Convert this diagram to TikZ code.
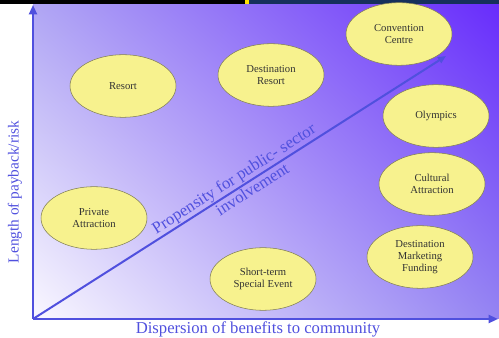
\documentclass[tikz,border=0pt]{standalone}
\usepackage{fontspec}
\setmainfont{Liberation Serif}
\usepackage{tikz}
\usetikzlibrary{shapes.geometric, shadings, arrows.meta}

\definecolor{axisblue}{RGB}{80,80,222}
\definecolor{placefill}{RGB}{247,242,142}
\definecolor{placeline}{RGB}{128,126,84}
\definecolor{bgll}{RGB}{250,248,255}
\definecolor{bgul}{RGB}{176,166,244}
\definecolor{bglr}{RGB}{148,132,242}
\definecolor{bgur}{RGB}{104,44,252}
\definecolor{topbar}{RGB}{22,48,92}

\tikzset{
  place/.style={ellipse, draw=placeline, fill=placefill, line width=0.4pt,
    minimum width=79.5pt, minimum height=47pt, inner sep=0pt, align=center,
    font=\fontsize{8}{9}\selectfont, text=black!80},
  axis/.style={draw=axisblue, line width=1.5pt, -{Triangle[length=7pt,width=6pt]}},
  axislabel/.style={text=axisblue, font=\fontsize{12.5}{14}\selectfont},
}

\begin{document}
\begin{tikzpicture}[x=0.75pt, y=0.75pt]
        \useasboundingbox (0,0) rectangle (499,338);

        % 背景の描画
        \shade[lower left=bgll, upper left=bgul, lower right=bglr, upper right=bgur]
            (33,19) rectangle (499,334);
        \fill[black] (0,334) rectangle (245,338);
        \fill[yellow!85!orange] (245,334) rectangle (249,338);
        \fill[topbar] (249,334) rectangle (499,338);

        % 軸の描画
        \coordinate (o) at (33,19);
        \coordinate (xend) at (498,19);
        \coordinate (yend) at (33,333);
        \coordinate (diag) at (446,282);

        \draw[axis] (o) -- (xend);
        \draw[axis] (o) -- (yend);
        \draw[axis, -{Triangle[length=6pt,width=5pt]}] (o) -- (diag)
            node[pos=0.5, sloped, above, inner sep=0.5pt, axislabel] (prop) {Propensity for public- sector}
            node[pos=0.52, sloped, below, inner sep=1pt, axislabel] (invol) {involvement};

        \node[axislabel] (xlab) at (258,9) {Dispersion of benefits to community};
        \node[axislabel, font=\fontsize{11.5}{13}\selectfont, rotate=90] (ylab) at (15,146) {Length of payback/risk};

        % 楕円の描画
        \node[place] (resort) at (123,252) {Resort};
        \node[place] (dresort) at (271,263) {Destination\\Resort};
        \node[place] (conv) at (399,304) {Convention\\Centre};
        \node[place] (olymp) at (436,222) {Olympics};
        \node[place] (cult) at (432,154) {Cultural\\Attraction};
        \node[place] (dmf) at (420,81) {Destination\\Marketing\\Funding};
        \node[place] (event) at (263,59) {Short-term\\Special Event};
        \node[place] (priv) at (94,120) {Private\\Attraction};
    \end{tikzpicture}
\end{document}
